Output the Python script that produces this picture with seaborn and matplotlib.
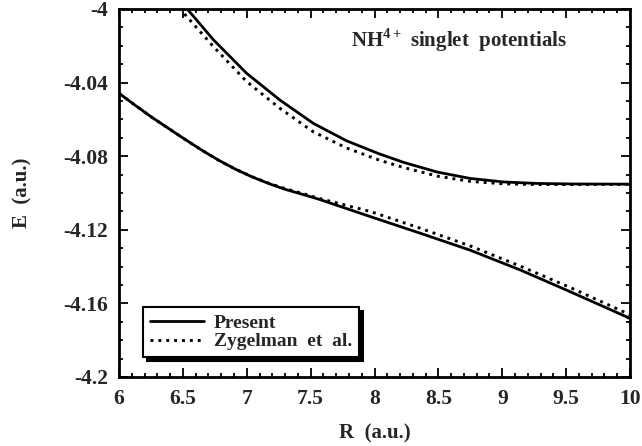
import matplotlib
matplotlib.use("Agg")
import matplotlib.pyplot as plt
import seaborn as sns
from matplotlib.ticker import MultipleLocator

# Data
R_up_present = [6.50, 6.54, 6.74, 7.00, 7.26, 7.52, 7.78, 8.04, 8.23, 8.49, 8.75, 9.01, 9.27, 9.55, 10.0]
E_up_present = [-3.998, -4.0005, -4.0168, -4.0350, -4.0495, -4.0621, -4.0716, -4.0788, -4.0834, -4.0886,
                -4.0921, -4.0940, -4.0948, -4.0951, -4.0952]

R_up_zyg = [6.48, 6.52, 6.74, 7.00, 7.26, 7.52, 7.78, 8.04, 8.23, 8.49, 8.75, 9.01, 9.27, 9.55, 10.0]
E_up_zyg = [-3.999, -4.0033, -4.0205, -4.0395, -4.0540, -4.0667, -4.0755, -4.0822, -4.0862, -4.0908,
            -4.0937, -4.0950, -4.0954, -4.0954, -4.0953]

R_lo_present = [6.0, 6.13, 6.26, 6.39, 6.52, 6.65, 6.78, 6.91, 7.04, 7.17, 7.30, 7.44, 7.57,
                7.97, 8.36, 8.75, 9.14, 9.53, 9.97, 10.0]
E_lo_present = [-4.0458, -4.0525, -4.0590, -4.0650, -4.0710, -4.0768, -4.0822, -4.0870, -4.0912,
                -4.0948, -4.0980, -4.1008, -4.1035, -4.1129, -4.1219, -4.1311, -4.1418, -4.1536,
                -4.1672, -4.1683]

R_lo_zyg = [6.0, 6.13, 6.26, 6.39, 6.52, 6.65, 6.78, 6.91, 7.04, 7.17, 7.30, 7.44, 7.57,
            7.97, 8.36, 8.75, 9.14, 9.53, 9.97, 10.0]
E_lo_zyg = [-4.0458, -4.0525, -4.0590, -4.0650, -4.0710, -4.0768, -4.0822, -4.0870, -4.0911,
            -4.0946, -4.0976, -4.1003, -4.1030, -4.1101, -4.1192, -4.1288, -4.1397, -4.1513,
            -4.1652, -4.1663]

x_ticks = [6, 6.5, 7, 7.5, 8, 8.5, 9, 9.5, 10]
x_tick_labels = ["6", "6.5", "7", "7.5", "8", "8.5", "9", "9.5", "10"]
y_ticks = [-4.2, -4.16, -4.12, -4.08, -4.04, -4.0]
y_tick_labels = ["-4.2", "-4.16", "-4.12", "-4.08", "-4.04", "-4"]

sns.set_theme(style="ticks")
plt.rcParams['font.family'] = ['Liberation Serif', 'DejaVu Serif']
plt.rcParams['font.weight'] = 'bold'
plt.rcParams['mathtext.fontset'] = 'custom'
plt.rcParams['mathtext.rm'] = 'Liberation Serif:bold'
plt.rcParams['mathtext.bf'] = 'Liberation Serif:bold'

fig = plt.figure(figsize=(6.42, 4.46), dpi=100)
ax = fig.add_axes([119/642, 1-377/446, 511/642, 368/446])

solid_kw = dict(color="black", linewidth=2.0)
dot_kw = dict(color="black", linewidth=2.1, linestyle=(0, (1.0, 1.7)))

sns.lineplot(x=R_up_present, y=E_up_present, ax=ax, label="Present", sort=False, **solid_kw)
sns.lineplot(x=R_up_zyg, y=E_up_zyg, ax=ax, label="Zygelman  et  al.", sort=False, **dot_kw)
sns.lineplot(x=R_lo_present, y=E_lo_present, ax=ax, sort=False, **solid_kw)
sns.lineplot(x=R_lo_zyg, y=E_lo_zyg, ax=ax, sort=False, **dot_kw)

ax.set_xlim(6, 10)
ax.set_ylim(-4.2, -4.0)
ax.set_xticks(x_ticks)
ax.set_xticklabels(x_tick_labels)
ax.set_yticks(y_ticks)
ax.set_yticklabels(y_tick_labels)
ax.xaxis.set_minor_locator(MultipleLocator(0.1))
ax.yaxis.set_minor_locator(MultipleLocator(0.01))
ax.tick_params(which='both', direction='in', top=True, right=True, color='black', width=1.3)
ax.tick_params(which='major', length=6.5, labelsize=15.5)
ax.tick_params(axis='x', which='major', pad=9)
ax.tick_params(axis='y', which='major', pad=8)
ax.tick_params(which='minor', length=3.2)
for lab in ax.get_xticklabels() + ax.get_yticklabels():
    lab.set_fontweight('bold')
for s in ax.spines.values():
    s.set_linewidth(2.0)
    s.set_color('black')

ax.set_xlabel("R  (a.u.)", fontsize=15, fontweight='bold', labelpad=10)
ax.set_ylabel("E  (a.u.)", fontsize=15, fontweight='bold', labelpad=22)

ax.text(0.666, 0.915, r"NH$^{4+}$ singlet  potentials", transform=ax.transAxes,
        ha='center', va='center', fontsize=15, fontweight='bold')

leg = ax.legend(loc='lower left', bbox_to_anchor=(0.047, 0.054), borderaxespad=0,
                fancybox=False, frameon=True, handlelength=2.8, handletextpad=0.5,
                borderpad=0.35, labelspacing=0.05, prop={'size': 14, 'weight': 'bold'},
                shadow={'ox': 3, 'oy': -3, 'color': 'black', 'alpha': 1.0})
leg.get_frame().set_edgecolor('black')
leg.get_frame().set_linewidth(1.5)
leg.get_frame().set_facecolor('white')
leg.get_frame().set_alpha(1.0)

fig.savefig("out.png", dpi=100)
